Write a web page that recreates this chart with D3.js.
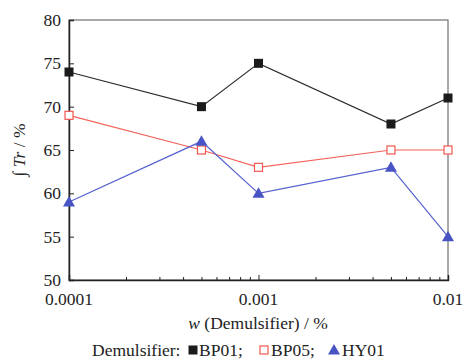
<!DOCTYPE html>
<html>
<head>
<meta charset="utf-8">
<script src="https://cdn.jsdelivr.net/npm/d3@7"></script>
<style>
  html, body { margin: 0; padding: 0; background: #fff; }
</style>
</head>
<body>
<svg id="chart" width="465" height="359"></svg>
<script>
// Demulsifier dosage (w, %) on a log axis
const dosages = [0.0001, 0.0005, 0.001, 0.005, 0.01];
const bp01 = [74, 70, 75, 68, 71];
const bp05 = [69, 65, 63, 65, 65];
const hy01 = [59, 66, 60, 63, 55];
const xTickValues = [0.0001, 0.001, 0.01];
const xTickLabels = ["0.0001", "0.001", "0.01"];
const yTickValues = [50, 55, 60, 65, 70, 75, 80];

const series = [
  { name: "BP01", values: bp01, color: "#1b1b1b", line: "#2a2a2a", shape: "squareFilled" },
  { name: "BP05", values: bp05, color: "#f2574f", line: "#f4635b", shape: "squareOpen" },
  { name: "HY01", values: hy01, color: "#4854c4", line: "#5561cf", shape: "triangle" }
];

const FONT = "'Liberation Serif', 'Times New Roman', monospace";
const FS = 17.5;
const svg = d3.select("#chart");
const m = { left: 69, right: 448, top: 20, bottom: 280 };

const x = d3.scaleLog().domain([0.0001, 0.01]).range([m.left, m.right]);
const y = d3.scaleLinear().domain([50, 80]).range([m.bottom, m.top]);

// frame: top/right thin, left/bottom as axes
svg.append("rect")
  .attr("x", m.left).attr("y", m.top)
  .attr("width", m.right - m.left).attr("height", m.bottom - m.top)
  .attr("fill", "none").attr("stroke", "#555").attr("stroke-width", 1);

// bottom axis: major + minor ticks pointing inward
const minorTicks = [];
[0.0001, 0.001].forEach(d => { for (let k = 2; k <= 9; k++) minorTicks.push(d * k); });
const xAxisMinor = d3.axisTop(x).tickValues(minorTicks).tickSize(3).tickFormat("");
svg.append("g").attr("transform", `translate(0,${m.bottom})`).call(xAxisMinor)
  .call(g => g.select(".domain").remove())
  .selectAll("line").attr("stroke", "#222");
const xAxisMajor = d3.axisTop(x).tickValues(xTickValues).tickSize(5).tickFormat("");
svg.append("g").attr("transform", `translate(0,${m.bottom})`).call(xAxisMajor)
  .call(g => g.select(".domain").attr("stroke", "#222").attr("stroke-width", 1.5))
  .selectAll("line").attr("stroke", "#222");

// left axis ticks pointing inward
const yAxis = d3.axisRight(y).tickValues(yTickValues).tickSize(5).tickFormat("");
svg.append("g").attr("transform", `translate(${m.left},0)`).call(yAxis)
  .call(g => g.select(".domain").attr("stroke", "#222").attr("stroke-width", 1.5))
  .selectAll("line").attr("stroke", "#222");

const labels = svg.append("g").attr("font-family", FONT).attr("fill", "#222").attr("font-size", FS);

// x tick labels
labels.append("g").selectAll("text").data(xTickValues).join("text")
  .attr("x", d => x(d)).attr("y", 305)
  .attr("text-anchor", "middle")
  .text((d, i) => xTickLabels[i]);

// y tick labels
labels.append("g").selectAll("text").data(yTickValues).join("text")
  .attr("x", 61).attr("y", d => y(d) + 6)
  .attr("text-anchor", "end")
  .text(d => d);

// axis titles
const xt = labels.append("text").attr("x", 258).attr("y", 329)
  .attr("text-anchor", "middle");
xt.append("tspan").attr("font-style", "italic").text("w");
xt.append("tspan").text(" (Demulsifier) / %");

const yt = labels.append("text")
  .attr("transform", `translate(25,${(m.top + m.bottom) / 2}) rotate(-90)`)
  .attr("text-anchor", "middle");
yt.append("tspan").attr("font-style", "italic").text("\u222B Tr");
yt.append("tspan").text(" / %");

// markers
function drawMarker(g, shape, color, cx, cy) {
  if (shape === "squareFilled") {
    g.append("rect").attr("x", cx - 4.5).attr("y", cy - 4.5).attr("width", 9).attr("height", 9)
      .attr("fill", color);
  } else if (shape === "squareOpen") {
    g.append("rect").attr("x", cx - 4).attr("y", cy - 4).attr("width", 8).attr("height", 8)
      .attr("fill", "#fff").attr("stroke", color).attr("stroke-width", 1.2);
  } else {
    const s = 6;
    g.append("path")
      .attr("d", `M${cx},${cy - s}L${cx + s},${cy + s * 0.75}L${cx - s},${cy + s * 0.75}Z`)
      .attr("fill", color);
  }
}

const line = d3.line().x((d, i) => x(dosages[i])).y(d => y(d));
series.forEach(s => {
  svg.append("path").datum(s.values).attr("d", line)
    .attr("fill", "none").attr("stroke", s.line).attr("stroke-width", 1.2);
});
series.forEach(s => {
  const g = svg.append("g");
  s.values.forEach((v, i) => drawMarker(g, s.shape, s.color, x(dosages[i]), y(v)));
});

// legend
const legendY = 350;
const lg = svg.append("g");
labels.append("text").attr("x", 92).attr("y", legendY + 6).text("Demulsifier:");
const legendItems = [
  { s: series[0], mx: 193, tx: 199, label: "BP01;" },
  { s: series[1], mx: 264, tx: 271, label: "BP05;" },
  { s: series[2], mx: 334, tx: 342, label: "HY01" }
];
legendItems.forEach(it => {
  drawMarker(lg, it.s.shape, it.s.color, it.mx, legendY);
  labels.append("text").attr("x", it.tx).attr("y", legendY + 6).text(it.label);
});
</script>
</body>
</html>
